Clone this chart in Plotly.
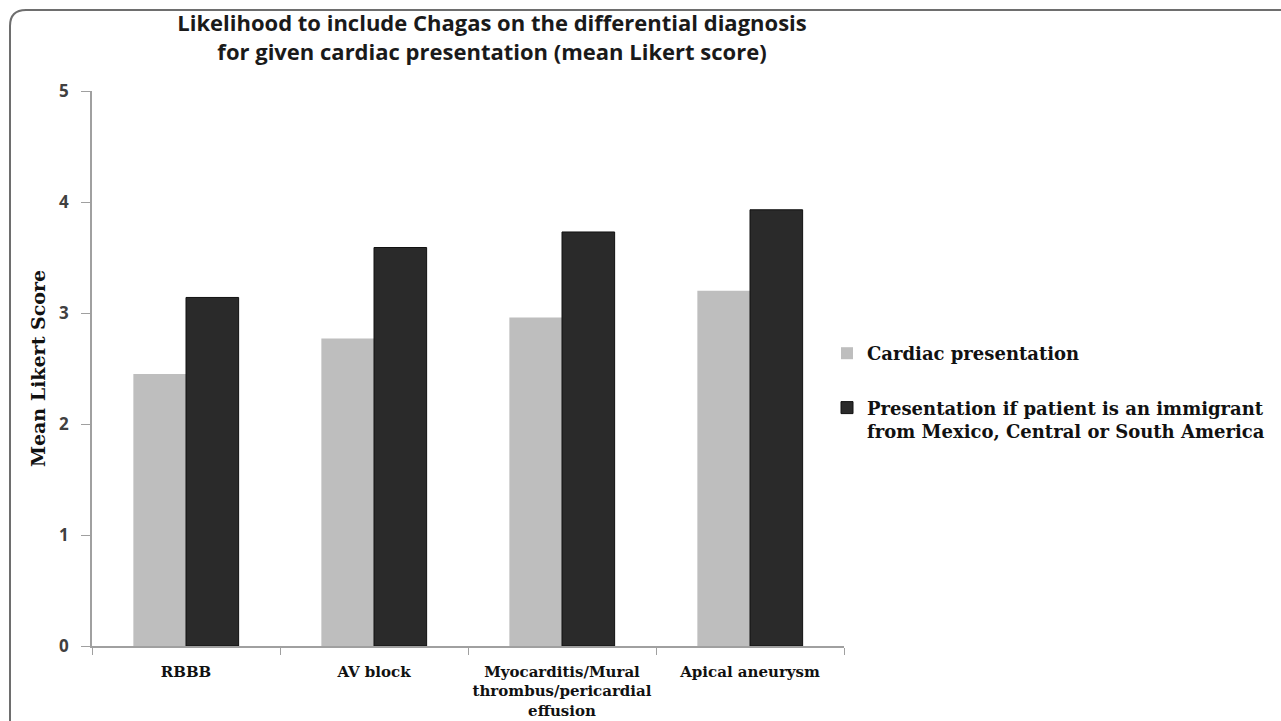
import plotly.graph_objects as go

# Categories and mean Likert scores per series
categories = ["RBBB", "AV block",
              "Myocarditis/Mural<br>thrombus/pericardial<br>effusion",
              "Apical aneurysm"]
series_names = ["Cardiac presentation",
                "Presentation if patient is an immigrant<br>from Mexico, Central or South America"]
cardiac_scores = [2.45, 2.77, 2.96, 3.20]
immigrant_scores = [3.14, 3.59, 3.73, 3.93]
y_ticks = [0, 1, 2, 3, 4, 5]

W, H = 1281, 721
L, R, T, B = 92, 844, 91, 646


def fx(px):
    return (px - L) / (R - L)


def fy(py):
    return (B - py) / (B - T)


fig = go.Figure()
fig.add_trace(go.Bar(
    x=categories, y=cardiac_scores, name=series_names[0],
    marker=dict(color="#bebebe", line=dict(width=0)),
    legendgroup="a",
))
fig.add_trace(go.Bar(
    x=categories, y=immigrant_scores, name=series_names[1],
    marker=dict(color="#2a2a2a", line=dict(color="#111111", width=1)),
    legendgroup="b",
))

# Rounded frame around the figure (top-left corner visible)
frame = (f"M {fx(10)},{fy(740)} L {fx(10)},{fy(26)} "
         f"Q {fx(10)},{fy(10)} {fx(26)},{fy(10)} L {fx(1300)},{fy(10)}")

fig.update_layout(
    width=W, height=H,
    margin=dict(l=L, r=W - R, t=T, b=H - B, autoexpand=False),
    paper_bgcolor="white", plot_bgcolor="white",
    barmode="group", bargap=0.44, bargroupgap=0,
    title=dict(
        text="Likelihood to include Chagas on the differential diagnosis<br>"
             "for given cardiac presentation (mean Likert score)",
        font=dict(family="Open Sans", size=22, color="#1a1a1a", weight="bold"),
        x=492 / W, xanchor="center", xref="container",
        y=1 - 31 / H, yanchor="top", yref="container",
    ),
    xaxis=dict(
        showline=True, linecolor="#a0a0a0", linewidth=1.5,
        ticks="outside", tickson="boundaries", ticklen=7, tickcolor="#a0a0a0",
        tickangle=0,
        tickfont=dict(family="DejaVu Serif", size=15, color="#111111", weight="bold"),
        ticklabelstandoff=11, showgrid=False, zeroline=False,
    ),
    yaxis=dict(
        range=[0, 5], tickvals=y_ticks,
        showline=True, linecolor="#a0a0a0", linewidth=1.5,
        ticks="outside", ticklen=9, tickcolor="#a0a0a0",
        tickfont=dict(family="Open Sans", size=17, color="#404040", weight="bold"),
        ticklabelstandoff=9, showgrid=False, zeroline=False,
        title=dict(text="Mean Likert Score", standoff=8,
                   font=dict(family="DejaVu Serif", size=19, color="#111111", weight="bold")),
    ),
    legend=dict(
        x=fx(827), xanchor="left", y=fy(335), yanchor="top",
        font=dict(family="DejaVu Serif", size=18, color="#111111", weight="bold"),
        valign="top", tracegroupgap=28, traceorder="grouped",
        bgcolor="rgba(0,0,0,0)",
    ),
    shapes=[dict(type="path", xref="paper", yref="paper", path=frame,
                 line=dict(color="#6e6e6e", width=2), layer="above")],
)

fig.write_html("out.html")
